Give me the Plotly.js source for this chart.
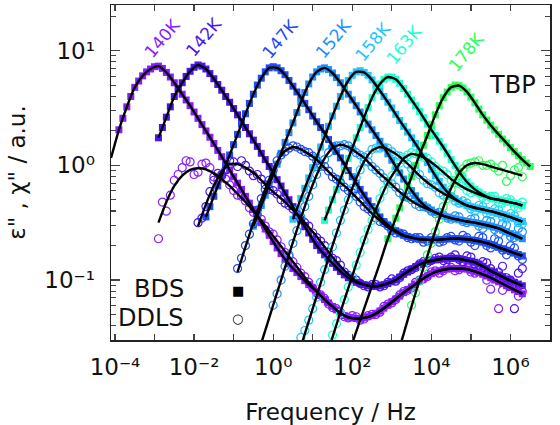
<!DOCTYPE html>
<html><head><meta charset="utf-8">
<script src="https://cdn.plot.ly/plotly-3.0.1.min.js"></script>
<style>html,body{margin:0;padding:0;background:#fff}#chart{width:560px;height:425px}</style>
</head><body><div id="chart"></div>
<script>
// shared log10(frequency / Hz) grids (two interleaved measurement grids)
const logF = [-4.1,-3.9,-3.7,-3.5,-3.3,-3.1,-2.9,-2.7,-2.5,-2.3,-2.1,-1.9,-1.7,-1.5,-1.3,-1.1,-0.9,-0.7,-0.5,-0.3,-0.1,0.1,0.3,0.5,0.7,0.9,1.1,1.3,1.5,1.7,1.9,2.1,2.3,2.5,2.7,2.9,3.1,3.3,3.5,3.7,3.9,4.1,4.3,4.5,4.7,4.9,5.1,5.3,5.5,5.7,5.9,6.1,6.3,6.5];
const logFh = [-4.0,-3.8,-3.6,-3.4,-3.2,-3.0,-2.8,-2.6,-2.4,-2.2,-2.0,-1.8,-1.6,-1.4,-1.2,-1.0,-0.8,-0.6,-0.4,-0.2,0.0,0.2,0.4,0.6,0.8,1.0,1.2,1.4,1.6,1.8,2.0,2.2,2.4,2.6,2.8,3.0,3.2,3.4,3.6,3.8,4.0,4.2,4.4,4.6,4.8,5.0,5.2,5.4,5.6,5.8,6.0,6.2,6.4];
const temps = ['140K','142K','147K','152K','158K','163K','178K'];
const colors = ['#8a1dff','#4b14f0','#1f4cf5','#1f8fff','#1fc6ff','#1effd2','#2bff5c'];

// BDS (log10 eps'') on grid logF, curve + fit; start given in bdsFitStart
const bds140 = [0.064,0.31,0.51,0.68,0.78,0.84,0.865,0.81,0.72,0.62,0.52,0.41,0.30,0.19,0.075,-0.04,-0.155,-0.27,-0.385,-0.50,-0.61,-0.72,-0.82,-0.90,-0.97,-1.04,-1.10,-1.17,-1.23,-1.29,-1.325,-1.335,-1.33,-1.31,-1.27,-1.22,-1.165,-1.11,-1.06,-1.01,-0.965,-0.93,-0.91,-0.90,-0.90,-0.905,-0.925,-0.95,-0.98,-1.015,-1.05,-1.085,-1.12];
const bds142 = [0.24,0.42,0.60,0.72,0.82,0.875,0.84,0.755,0.655,0.55,0.44,0.33,0.22,0.105,-0.01,-0.125,-0.24,-0.36,-0.48,-0.59,-0.70,-0.78,-0.855,-0.925,-0.98,-1.02,-1.04,-1.055,-1.05,-1.03,-1.00,-0.95,-0.905,-0.865,-0.84,-0.825,-0.815,-0.81,-0.815,-0.83,-0.845,-0.88,-0.92,-0.955,-0.99,-1.02,-1.05];
const bds147 = [-0.45,-0.27,-0.09,0.09,0.27,0.45,0.62,0.76,0.85,0.85,0.79,0.69,0.59,0.485,0.38,0.28,0.17,0.065,-0.045,-0.155,-0.26,-0.36,-0.45,-0.52,-0.57,-0.61,-0.63,-0.645,-0.65,-0.65,-0.645,-0.64,-0.64,-0.645,-0.655,-0.67,-0.69,-0.715,-0.74,-0.765,-0.79];
const bds152 = [-0.53,-0.35,-0.17,0.01,0.20,0.37,0.55,0.71,0.815,0.85,0.805,0.72,0.62,0.52,0.41,0.31,0.21,0.10,-0.01,-0.12,-0.22,-0.31,-0.37,-0.41,-0.44,-0.46,-0.475,-0.49,-0.50,-0.515,-0.53,-0.55,-0.58,-0.61,-0.64];
const bds158 = [-0.47,-0.29,-0.11,0.07,0.25,0.43,0.60,0.74,0.815,0.81,0.745,0.65,0.55,0.445,0.34,0.24,0.135,0.025,-0.09,-0.19,-0.265,-0.315,-0.35,-0.37,-0.385,-0.40,-0.42,-0.44,-0.465,-0.49];
const bds163 = [-0.48,-0.30,-0.12,0.06,0.24,0.42,0.59,0.71,0.77,0.75,0.67,0.57,0.47,0.36,0.26,0.16,0.05,-0.055,-0.145,-0.21,-0.255,-0.285,-0.30,-0.315,-0.33,-0.35];
const bds178 = [-1.65,-1.45,-1.25,-1.05,-0.85,-0.64,-0.46,-0.28,-0.10,0.09,0.26,0.44,0.59,0.68,0.695,0.64,0.545,0.44,0.35,0.27,0.195,0.12,0.05,-0.01];
const bdsFitStart = [-4.1,-2.9,-1.7,-0.5,0.5,1.3,1.9];
const bdsFirst = [-3.9,-2.9,-1.7,-0.5,0.5,1.3,2.9];

// BDS points on interleaved grid logFh
const bdsH140 = [0.41,0.60,0.735,0.815,0.86,0.845,0.77,0.67,0.57,0.465,0.355,0.245,0.13,0.015,-0.10,-0.21,-0.33,-0.445,-0.555,-0.665,-0.77,-0.86,-0.935,-1.005,-1.07,-1.135,-1.20,-1.26,-1.31,-1.33,-1.335,-1.32,-1.29,-1.245,-1.19,-1.14,-1.085,-1.035,-0.985,-0.945,-0.92,-0.905,-0.90,-0.90,-0.915,-0.935,-0.965,-1.0,-1.03,-1.065,-1.10];
const bdsH142 = [0.33,0.51,0.665,0.775,0.855,0.865,0.80,0.705,0.60,0.495,0.385,0.275,0.165,0.05,-0.07,-0.18,-0.30,-0.42,-0.535,-0.645,-0.74,-0.82,-0.89,-0.955,-1.0,-1.03,-1.05,-1.055,-1.04,-1.015,-0.975,-0.93,-0.885,-0.85,-0.83,-0.82,-0.81,-0.81,-0.82,-0.835,-0.86,-0.90,-0.935,-0.97,-1.005,-1.035];
const bdsH147 = [-0.36,-0.18,0.0,0.18,0.36,0.54,0.70,0.815,0.86,0.825,0.74,0.64,0.54,0.43,0.33,0.225,0.12,0.01,-0.10,-0.21,-0.31,-0.405,-0.49,-0.545,-0.59,-0.62,-0.64,-0.65,-0.65,-0.648,-0.642,-0.64,-0.642,-0.65,-0.662,-0.68,-0.70,-0.727,-0.752,-0.778];
const bdsH152 = [-0.44,-0.26,-0.08,0.105,0.285,0.46,0.635,0.77,0.84,0.835,0.765,0.67,0.57,0.465,0.36,0.26,0.155,0.045,-0.065,-0.17,-0.265,-0.345,-0.39,-0.425,-0.45,-0.468,-0.483,-0.495,-0.507,-0.522,-0.54,-0.565,-0.595,-0.625];
const bdsH158 = [-0.38,-0.20,-0.02,0.16,0.34,0.515,0.675,0.785,0.825,0.785,0.70,0.60,0.50,0.39,0.29,0.19,0.08,-0.035,-0.14,-0.23,-0.29,-0.335,-0.36,-0.378,-0.392,-0.41,-0.43,-0.452,-0.478];
const bdsH163 = [-0.39,-0.21,-0.03,0.15,0.33,0.505,0.655,0.75,0.77,0.715,0.62,0.52,0.415,0.31,0.21,0.105,0.0,-0.10,-0.18,-0.235,-0.27,-0.293,-0.308,-0.322,-0.34];
const bdsH178 = [-0.55,-0.37,-0.19,0.0,0.175,0.35,0.52,0.64,0.70,0.675,0.595,0.49,0.395,0.31,0.23,0.155,0.085,0.02];
const bdsHStart = [-3.8,-2.8,-1.6,-0.4,0.6,1.4,3.0];

// DDLS fits (log10 chi'') on grid logF
const dfit140 = [-0.50,-0.32,-0.18,-0.09,-0.04,-0.025,-0.035,-0.07,-0.12,-0.18,-0.25,-0.32,-0.40,-0.48,-0.57,-0.66,-0.75,-0.84,-0.93,-1.02,-1.10,-1.17,-1.23,-1.29,-1.325,-1.335,-1.33,-1.31,-1.27,-1.22,-1.165,-1.11,-1.06,-1.01,-0.965,-0.93,-0.91,-0.90,-0.90,-0.905,-0.925,-0.95,-0.98,-1.015,-1.05,-1.085,-1.12];
const dfit142 = [-0.53,-0.34,-0.175,-0.055,0.01,0.01,-0.02,-0.065,-0.13,-0.20,-0.26,-0.32,-0.39,-0.46,-0.54,-0.62,-0.71,-0.80,-0.88,-0.95,-1.01,-1.04,-1.055,-1.05,-1.03,-1.00,-0.95,-0.905,-0.865,-0.84,-0.825,-0.815,-0.81,-0.815,-0.83,-0.845,-0.88,-0.92,-0.955,-0.99,-1.02,-1.05];
const dfit147 = [-0.93,-0.71,-0.50,-0.30,-0.12,0.03,0.125,0.16,0.14,0.10,0.05,-0.02,-0.09,-0.15,-0.21,-0.28,-0.35,-0.42,-0.48,-0.54,-0.58,-0.615,-0.63,-0.645,-0.65,-0.65,-0.645,-0.64,-0.64,-0.645,-0.655,-0.67,-0.69,-0.715,-0.74,-0.765,-0.79];
const dfit152 = [-1.55,-1.33,-1.11,-0.89,-0.67,-0.46,-0.26,-0.085,0.06,0.15,0.18,0.16,0.115,0.065,-0.005,-0.075,-0.135,-0.20,-0.26,-0.31,-0.35,-0.38,-0.41,-0.44,-0.46,-0.475,-0.49,-0.50,-0.515,-0.53,-0.55,-0.58,-0.61,-0.64];
const dfit158 = [-1.80,-1.58,-1.36,-1.14,-0.92,-0.70,-0.49,-0.29,-0.115,0.035,0.13,0.16,0.14,0.10,0.045,-0.02,-0.09,-0.15,-0.20,-0.245,-0.28,-0.315,-0.35,-0.37,-0.385,-0.40,-0.42,-0.44,-0.465,-0.49];
const dfit163 = [-1.70,-1.50,-1.28,-1.07,-0.86,-0.66,-0.47,-0.30,-0.15,-0.04,0.06,0.10,0.085,0.05,0.0,-0.06,-0.12,-0.17,-0.21,-0.24,-0.265,-0.29,-0.30,-0.315,-0.33,-0.35];
const dfit178 = [-1.70,-1.47,-1.23,-1.00,-0.79,-0.57,-0.37,-0.20,-0.07,0.0,0.02,0.01,-0.01,-0.03,-0.05,-0.07,-0.09];
const ddlsFitStart = [-2.9,-1.9,-0.9,-0.3,0.5,1.3,3.1];

// DDLS measured points (log10 chi'') on grid logF
const ddls140 = [-0.64,-0.40,-0.13,-0.02,0.03,-0.06,0.02,-0.10,-0.09,-0.17,-0.26,-0.31,-0.41,-0.47,-0.58,-0.65,-0.76,-0.84,-0.94,-1.02,-1.11,-1.16,-1.24,-1.28,-1.33,-1.32,-1.34,-1.30,-1.28,-1.21,-1.17,-1.10,-1.07,-1.00,-0.97,-0.92,-0.92,-0.89,-0.91,-0.89,-0.94,-0.93,-1.08,-1.25,-1.03,-1.06,-1.10];
const ddls142 = [-0.50,-0.36,-0.13,-0.08,0.04,-0.01,0.0,-0.09,-0.12,-0.21,-0.25,-0.33,-0.38,-0.47,-0.53,-0.63,-0.70,-0.81,-0.87,-0.96,-1.00,-1.05,-1.04,-1.06,-1.02,-1.01,-0.94,-0.91,-0.86,-0.85,-0.81,-0.83,-0.80,-0.82,-0.79,-0.86,-0.84,-0.90,-0.93,-0.98,-1.25,-0.90];
const ddls147 = [-0.90,-0.70,-0.51,-0.29,-0.13,0.04,0.12,0.17,0.14,0.11,0.04,-0.01,-0.10,-0.15,-0.22,-0.27,-0.36,-0.41,-0.49,-0.53,-0.59,-0.60,-0.64,-0.63,-0.66,-0.64,-0.66,-0.62,-0.66,-0.63,-0.70,-0.63,-0.72,-0.66,-0.78,-0.72,-0.82];
const ddls152 = [-1.12,-0.88,-0.68,-0.45,-0.27,-0.08,0.05,0.16,0.17,0.17,0.11,0.07,-0.01,-0.07,-0.14,-0.19,-0.27,-0.30,-0.36,-0.37,-0.42,-0.43,-0.47,-0.45,-0.50,-0.46,-0.55,-0.49,-0.60,-0.52,-0.63,-0.58];
const ddls158 = [-1.50,-1.35,-1.15,-0.91,-0.71,-0.48,-0.30,-0.11,0.03,0.14,0.15,0.15,0.09,0.05,-0.03,-0.08,-0.16,-0.19,-0.26,-0.27,-0.33,-0.33,-0.40,-0.36,-0.43,-0.39,-0.47,-0.44,-0.51];
const ddls163 = [-1.48,-1.29,-1.06,-0.87,-0.65,-0.48,-0.29,-0.16,-0.03,0.07,0.11,0.08,0.06,-0.01,-0.05,-0.13,-0.16,-0.22,-0.23,-0.28,-0.27,-0.33,-0.29,-0.36,-0.32];
const ddls178 = [-1.22,-1.01,-0.78,-0.58,-0.36,-0.21,-0.06,0.01,0.03,0.0,0.01,-0.05,-0.14,-0.04,-0.10];
const ddlsStart = [-2.9,-1.9,-0.9,0.1,0.7,1.5,3.5];

// DDLS measured points on interleaved grid logFh
const ddlsH140 = [-0.32,-0.26,-0.08,0.04,-0.08,0.01,-0.02,-0.13,-0.12,-0.22,-0.27,-0.37,-0.43,-0.53,-0.60,-0.71,-0.79,-0.89,-0.97,-1.07,-1.13,-1.21,-1.25,-1.32,-1.31,-1.35,-1.31,-1.30,-1.23,-1.20,-1.13,-1.09,-1.02,-0.99,-0.93,-0.94,-0.89,-0.92,-0.88,-0.93,-0.91,-1.0,-0.96,-1.09,-1.02,-1.14];
const ddlsH142 = [-0.46,-0.23,-0.07,-0.04,0.03,0.04,-0.05,-0.08,-0.17,-0.22,-0.30,-0.35,-0.43,-0.50,-0.59,-0.66,-0.76,-0.83,-0.93,-0.97,-1.03,-1.06,-1.04,-1.05,-0.99,-0.98,-0.92,-0.89,-0.84,-0.83,-0.80,-0.82,-0.78,-0.84,-0.80,-0.87,-0.85,-0.95,-0.88,-1.0,-0.94];
const ddlsH147 = [-0.81,-0.60,-0.39,-0.21,-0.04,0.09,0.15,0.16,0.12,0.08,0.01,-0.05,-0.12,-0.19,-0.24,-0.32,-0.38,-0.46,-0.50,-0.57,-0.59,-0.63,-0.63,-0.67,-0.63,-0.67,-0.63,-0.65,-0.61,-0.67,-0.62,-0.70,-0.64,-0.74,-0.70,-0.79];
const ddlsH152 = [-1.22,-1.00,-0.78,-0.57,-0.36,-0.17,-0.01,0.11,0.17,0.18,0.14,0.09,0.03,-0.04,-0.11,-0.16,-0.24,-0.28,-0.34,-0.36,-0.40,-0.41,-0.46,-0.44,-0.49,-0.47,-0.53,-0.48,-0.56,-0.51,-0.62,-0.55];
const ddlsH158 = [-1.44,-1.25,-1.02,-0.82,-0.59,-0.39,-0.20,-0.04,0.09,0.15,0.16,0.12,0.08,0.01,-0.05,-0.13,-0.17,-0.24,-0.25,-0.31,-0.31,-0.38,-0.35,-0.42,-0.38,-0.45,-0.42,-0.50];
const ddlsH163 = [-1.38,-1.17,-0.97,-0.76,-0.56,-0.39,-0.22,-0.09,0.02,0.09,0.10,0.07,0.03,-0.04,-0.08,-0.15,-0.18,-0.24,-0.24,-0.30,-0.27,-0.33,-0.30,-0.37];
const ddlsH178 = [-1.11,-0.89,-0.68,-0.47,-0.29,-0.13,-0.03,0.02,0.04,0.0,-0.02,0.0,-0.09,-0.02];
const ddlsHStart = [-2.8,-1.8,-0.8,0.0,0.8,1.6,3.6];

// label positions (log10 f, log10 y) for temperature annotations
const labelF = [-2.80,-1.75,0.17,1.51,2.52,3.30,4.88];
const labelY = [1.11,1.115,1.10,1.105,1.075,1.05,0.99];

const bdsAll = [bds140,bds142,bds147,bds152,bds158,bds163,bds178];
const bdsHAll = [bdsH140,bdsH142,bdsH147,bdsH152,bdsH158,bdsH163,bdsH178];
const dfitAll = [dfit140,dfit142,dfit147,dfit152,dfit158,dfit163,dfit178];
const ddlsAll = [ddls140,ddls142,ddls147,ddls152,ddls158,ddls163,ddls178];
const ddlsHAll = [ddlsH140,ddlsH142,ddlsH147,ddlsH152,ddlsH158,ddlsH163,ddlsH178];

function series(grid, arr, start, first){
  const i0 = grid.findIndex(v => Math.abs(v - start) < 1e-6);
  const x = [], y = [];
  arr.forEach((v,k) => {
    const L = grid[i0 + k];
    if (first !== undefined && L < first - 1e-6) return;
    x.push(Math.pow(10, L)); y.push(Math.pow(10, v));
  });
  return {x, y};
}
function merge(a, b){
  const pts = a.x.map((x,k)=>[x,a.y[k]]).concat(b.x.map((x,k)=>[x,b.y[k]]));
  pts.sort((p,q)=>p[0]-q[0]);
  return {x: pts.map(p=>p[0]), y: pts.map(p=>p[1])};
}

const traces = [];
temps.forEach((t,i) => {
  const s = merge(series(logF, bdsAll[i], bdsFitStart[i], bdsFirst[i]), series(logFh, bdsHAll[i], bdsHStart[i]));
  traces.push({type:'scatter', mode:'markers', x:s.x, y:s.y, name:'BDS '+t,
    marker:{symbol:'square', size:7, color:colors[i], line:{width:0}}, hoverinfo:'skip'});
});
temps.forEach((t,i) => {
  const s = merge(series(logF, ddlsAll[i], ddlsStart[i]), series(logFh, ddlsHAll[i], ddlsHStart[i]));
  traces.push({type:'scatter', mode:'markers', x:s.x, y:s.y, name:'DDLS '+t,
    marker:{symbol:'circle-open', size:8, color:colors[i], line:{width:1.2, color:colors[i]}}, hoverinfo:'skip'});
});
temps.forEach((t,i) => {
  const s = series(logF, bdsAll[i], bdsFitStart[i]);
  traces.push({type:'scatter', mode:'lines', x:s.x, y:s.y, name:'fit BDS '+t,
    line:{color:'#000', width:2.4, shape:'spline', smoothing:0.6}, hoverinfo:'skip'});
  const d = series(logF, dfitAll[i], ddlsFitStart[i]);
  traces.push({type:'scatter', mode:'lines', x:d.x, y:d.y, name:'fit DDLS '+t,
    line:{color:'#000', width:2.4, shape:'spline', smoothing:0.6}, hoverinfo:'skip'});
});

const xTickVals = [1e-4,1e-2,1,1e2,1e4,1e6];
const xTickText = ['10⁻⁴','10⁻²','10⁰','10²','10⁴','10⁶'];
const xMinor = [1e-3,1e-1,1e1,1e3,1e5];
const yTickVals = [0.1,1,10];
const yTickText = ['10⁻¹','10⁰','10¹'];
const yMinor = [0.04,0.05,0.06,0.07,0.08,0.09,0.2,0.3,0.4,0.5,0.6,0.7,0.8,0.9,2,3,4,5,6,7,8,9,20];

const annotations = temps.map((t,i) => ({
  x: labelF[i], y: labelY[i], xref:'x', yref:'y', text:t, showarrow:false,
  textangle:-50, font:{family:'DejaVu Sans', size:17, color:colors[i]}
}));
annotations.push({x:6.06, y:0.70, xref:'x', yref:'y', text:'TBP', showarrow:false, font:{family:'DejaVu Sans', size:24, color:'#111'}});
annotations.push({x:-2.21, y:-1.078, xref:'x', yref:'y', text:'BDS', xanchor:'right', showarrow:false, font:{family:'DejaVu Sans', size:24, color:'#111'}});
annotations.push({x:-2.21, y:-1.333, xref:'x', yref:'y', text:'DDLS', xanchor:'right', showarrow:false, font:{family:'DejaVu Sans', size:24, color:'#111'}});
annotations.push({x:-0.89, y:-1.087, xref:'x', yref:'y', text:'■', showarrow:false, font:{family:'DejaVu Sans', size:13, color:'#000'}});
annotations.push({x:-0.89, y:-1.333, xref:'x', yref:'y', text:'○', showarrow:false, font:{family:'DejaVu Sans', size:13, color:'#000'}});

const layout = {
  width:560, height:425,
  margin:{l:111, r:10, t:5, b:85},
  paper_bgcolor:'#fff', plot_bgcolor:'#fff',
  showlegend:false,
  font:{family:'DejaVu Sans', color:'#111', size:23},
  xaxis:{type:'log', range:[-4.1,7.0], tickmode:'array', tickvals:xTickVals, ticktext:xTickText,
    ticks:'inside', ticklen:6, tickwidth:1.2, tickcolor:'#444', showline:true, linecolor:'#222', linewidth:1.5,
    mirror:'ticks', showgrid:false, zeroline:false, ticklabelstandoff:6,
    minor:{tickmode:'array', tickvals:xMinor, ticks:'inside', ticklen:6, tickwidth:1.2, tickcolor:'#444', showgrid:false},
    tickfont:{family:'DejaVu Sans', size:23, color:'#111'},
    title:{text:'Frequency / Hz', font:{family:'DejaVu Sans', size:23, color:'#111'}, standoff:25}},
  yaxis:{type:'log', range:[Math.log10(0.03), Math.log10(25)], tickmode:'array', tickvals:yTickVals, ticktext:yTickText,
    ticks:'inside', ticklen:9, tickwidth:1.2, tickcolor:'#444', showline:true, linecolor:'#222', linewidth:1.5,
    mirror:'ticks', showgrid:false, zeroline:false, ticklabelstandoff:10,
    minor:{tickmode:'array', tickvals:yMinor, ticks:'inside', ticklen:5, tickwidth:1.1, tickcolor:'#444', showgrid:false},
    tickfont:{family:'DejaVu Sans', size:23, color:'#111'},
    title:{text:'ε" , χ" / a.u.', font:{family:'DejaVu Sans', size:23, color:'#111'}, standoff:12}},
  annotations: annotations
};

Plotly.newPlot('chart', traces, layout, {staticPlot:true, displayModeBar:false});
</script>
</body></html>
